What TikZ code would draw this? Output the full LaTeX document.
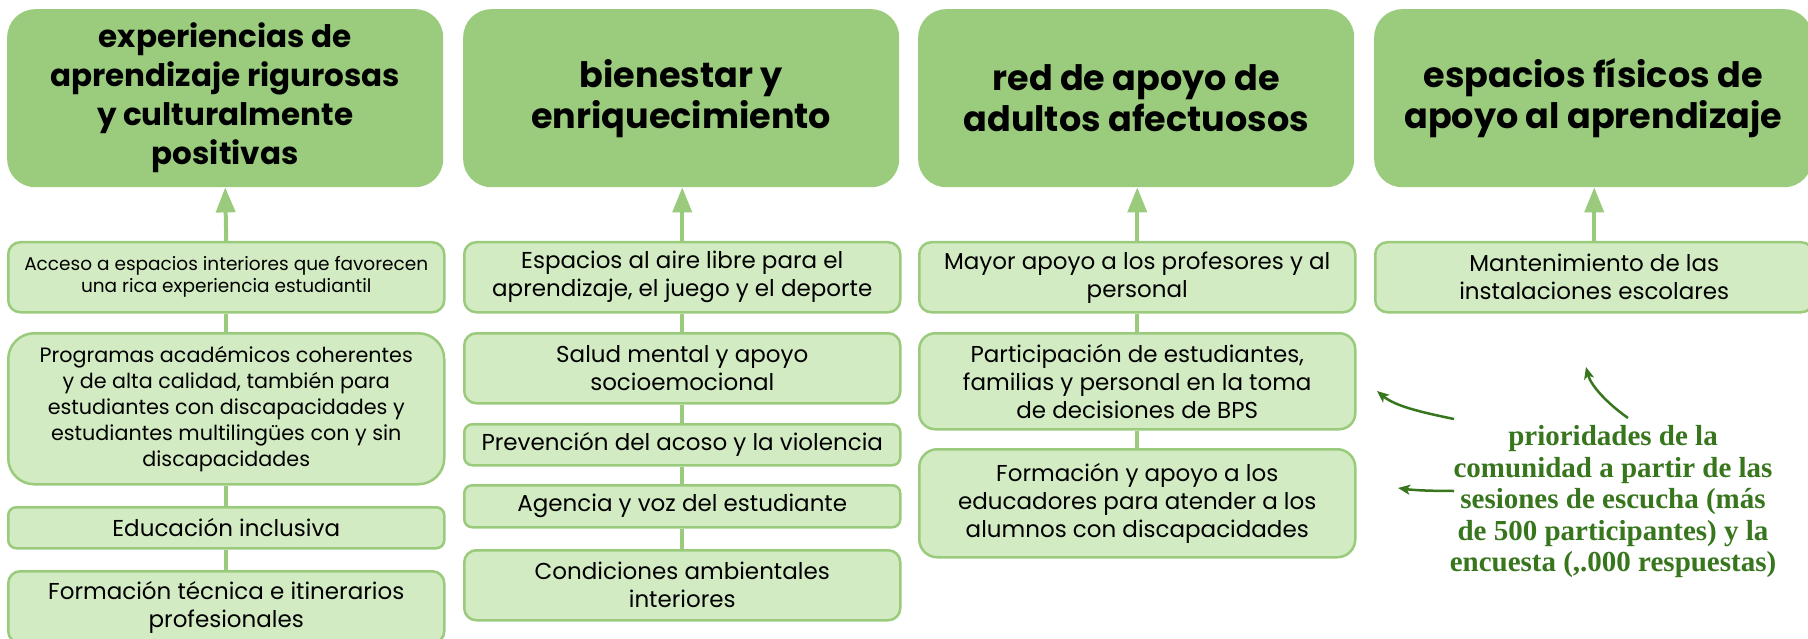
\documentclass[tikz,border=0pt]{standalone}
\usepackage{fontspec}
\setmainfont{Poppins}
\newfontfamily\annfont{Liberation Serif}
\usetikzlibrary{arrows.meta}
\definecolor{hdr}{RGB}{155,204,126}
\definecolor{sub}{RGB}{211,235,195}
\definecolor{edge}{RGB}{154,203,125}
\definecolor{annc}{RGB}{56,118,29}
\begin{document}
\begin{tikzpicture}[x=1pt,y=-1pt,
  hdrbox/.style={fill=hdr, draw=none, rounded corners=28pt, minimum width=436pt, minimum height=178pt, anchor=north west, inner sep=0pt, align=center, font=\fontsize{35}{41}\selectfont\bfseries},
  subbox/.style={fill=sub, draw=edge, line width=2.5pt, anchor=north west, inner sep=0pt, align=center, minimum width=436pt, minimum height=70pt, rounded corners=12pt, font=\fontsize{23}{28}\selectfont},
  link/.style={draw=edge, line width=4pt},
  up/.style={link, -{Triangle[length=25pt,width=19pt]}},
  annarrow/.style={draw=annc, line width=2.5pt, -{Stealth[length=12pt,width=10pt,inset=3pt]}},
  anntext/.style={text=annc, align=center, inner sep=0pt, font=\annfont\bfseries\fontsize{29}{31.5}\selectfont}
]
\useasboundingbox (0,0) rectangle (1808,639);
\fill[white] (0,0) rectangle (1808,639);

% column 1
\node[hdrbox, font=\fontsize{31}{39}\selectfont\bfseries] (h1) at (7,9) {experiencias de\\aprendizaje rigurosas\\y culturalmente\\positivas};
\node[subbox, font=\fontsize{18.5}{22}\selectfont] (a1) at (7,241) {Acceso a espacios interiores que favorecen\\una rica experiencia estudiantil};
\node[subbox, minimum height=151pt, rounded corners=26pt, font=\fontsize{20.7}{26}\selectfont] (a2) at (7,332) {Programas académicos coherentes\\y de alta calidad, también para\\estudiantes con discapacidades y\\estudiantes multilingües con y sin\\discapacidades};
\node[subbox, minimum height=41pt, rounded corners=8pt] (a3) at (7,506) {Educación inclusiva};
\node[subbox, minimum height=72pt] (a4) at (7,570) {Formación técnica e itinerarios\\profesionales};

% column 2
\node[hdrbox] (h2) at (463,9) {bienestar y\\enriquecimiento};
\node[subbox] (b1) at (463,241) {Espacios al aire libre para el\\aprendizaje, el juego y el deporte};
\node[subbox] (b2) at (463,332) {Salud mental y apoyo\\socioemocional};
\node[subbox, minimum height=41pt, rounded corners=8pt] (b3) at (463,423) {Prevención del acoso y la violencia};
\node[subbox, minimum height=42pt, rounded corners=8pt] (b4) at (463,484) {Agencia y voz del estudiante};
\node[subbox] (b5) at (463,549) {Condiciones ambientales\\interiores};

% column 3
\node[hdrbox] (h3) at (918,9) {red de apoyo de\\adultos afectuosos};
\node[subbox] (c1) at (918,241) {Mayor apoyo a los profesores y al\\personal};
\node[subbox, minimum height=96pt, rounded corners=16pt] (c2) at (918,332) {Participación de estudiantes,\\familias y personal en la toma\\de decisiones de BPS};
\node[subbox, minimum height=108pt, rounded corners=18pt] (c3) at (918,448) {Formación y apoyo a los\\educadores para atender a los\\alumnos con discapacidades};

% column 4
\node[hdrbox, minimum width=438pt] (h4) at (1374,9) {espacios físicos de\\apoyo al aprendizaje};
\node[subbox, minimum width=438pt] (d1) at (1374,241) {Mantenimiento de las\\instalaciones escolares};

% connectors
\draw[up] (a1.north) -- (h1.south);
\draw[link] (a1.south) -- (a2.north);
\draw[link] (a2.south) -- (a3.north);
\draw[link] (a3.south) -- (a4.north);
\draw[up] (b1.north) -- (b1.north |- h2.south);
\draw[link] (b1.south) -- (b2.north);
\draw[link] (b2.south) -- (b3.north);
\draw[link] (b3.south) -- (b4.north);
\draw[link] (b4.south) -- (b5.north);
\draw[up] (c1.north) -- (c1.north |- h3.south);
\draw[link] (c1.south) -- (c2.north);
\draw[link] (c2.south) -- (c3.north);
\draw[up] (d1.north) -- (d1.north |- h4.south);

% annotation
\node[anntext] (ann) at (1613,502) {prioridades de la\\comunidad a partir de las\\sesiones de escucha (más\\de 500 participantes) y la\\encuesta (,.000 respuestas)};
\coordinate (s1) at (1628,418);
\coordinate (t1) at (1586,367);
\coordinate (s2) at (1454,419);
\coordinate (t2) at (1377,391);
\coordinate (s3) at (1454,491);
\coordinate (t3) at (1398,488);
\draw[annarrow] (s1) .. controls (1608,404) and (1591,386) .. (t1);
\draw[annarrow] (s2) .. controls (1420,412) and (1395,406) .. (t2);
\draw[annarrow] (s3) .. controls (1428,491) and (1412,490) .. (t3);
\end{tikzpicture}
\end{document}
